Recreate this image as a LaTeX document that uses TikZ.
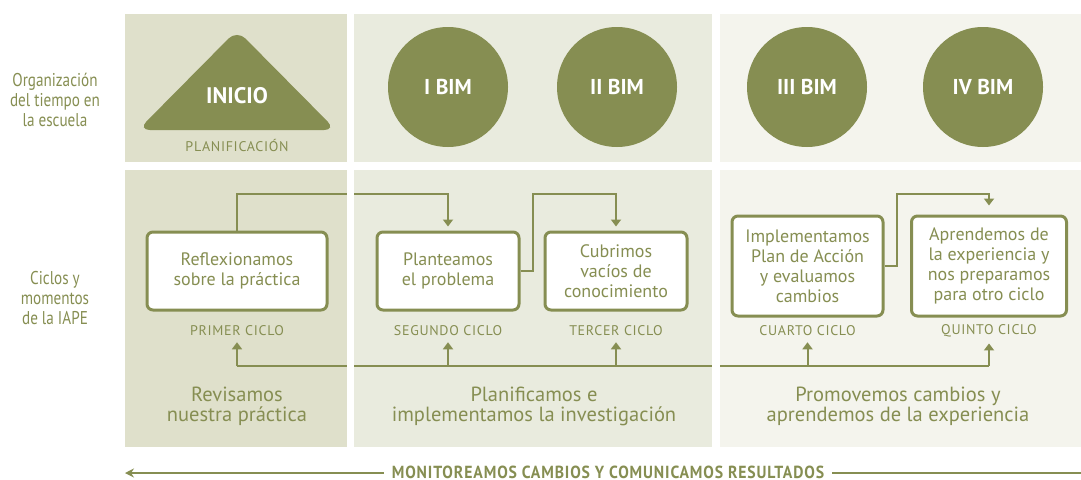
\documentclass[tikz,border=0pt]{standalone}
\usepackage{fontspec}
\setmainfont{PT Sans}
\newfontfamily\condfont[FakeStretch=0.82]{PT Sans}
\newfontfamily\capsfont[LetterSpace=5]{PT Sans}
\newfontfamily\monfont[FakeStretch=0.9,LetterSpace=5]{PT Sans}
\usetikzlibrary{arrows.meta,calc}
\definecolor{oliveG}{RGB}{134,142,82}
\definecolor{panelA}{RGB}{223,224,203}
\definecolor{panelB}{RGB}{233,235,222}
\definecolor{panelC}{RGB}{244,244,237}
\tikzset{
  bim/.style={circle,fill=oliveG,minimum size=120pt,inner sep=0pt,text=white,font=\bfseries\fontsize{21.5}{24}\selectfont},
  cbox/.style={draw=oliveG,line width=3pt,rounded corners=6pt,fill=white,text=oliveG,align=center,inner sep=0pt,font=\fontsize{18}{20}\selectfont},
  ciclo/.style={text=oliveG,font=\capsfont\fontsize{14}{16}\selectfont,inner sep=2pt},
  sidelab/.style={text=oliveG,align=center,font=\condfont\fontsize{18.5}{20}\selectfont},
  paneltxt/.style={text=oliveG,align=center,font=\fontsize{20.5}{20}\selectfont},
  conn/.style={draw=oliveG,line width=2pt},
  arr/.style={conn,-{Triangle[width=10pt,length=7pt]},shorten >=4pt}
}
\begin{document}
\begin{tikzpicture}[x=1pt,y=-1pt]
\useasboundingbox (0,0) rectangle (1081,479);
% panels
\fill[panelA] (125,14) rectangle (347,162);
\fill[panelB] (354,14) rectangle (712,162);
\fill[panelC] (720,14) rectangle (1081,162);
\fill[panelA] (125,170) rectangle (347,447);
\fill[panelB] (354,170) rectangle (712,447);
\fill[panelC] (720,170) rectangle (1081,447);
% side labels
\node[sidelab] (org) at (55,100) {Organización\\del tiempo en\\la escuela};
\node[sidelab] (cic) at (55,298) {Ciclos y\\momentos\\de la IAPE};
% top row
\fill[oliveG,rounded corners=12pt] (237,30) -- (336,130) -- (138,130) -- cycle;
\node[text=white,font=\bfseries\fontsize{22.5}{24}\selectfont] (ini) at (237,96) {INICIO};
\node[ciclo] (plan) at (237,145) {PLANIFICACIÓN};
\node[bim] (b1) at (448,87) {I BIM};
\node[bim] (b2) at (617,87) {II BIM};
\node[bim] (b3) at (807,87) {III BIM};
\node[bim] (b4) at (983,87) {IV BIM};
% boxes
\node[cbox,minimum width=180pt,minimum height=78pt] (r1) at (237,271) {Reflexionamos\\sobre la práctica};
\node[cbox,minimum width=142pt,minimum height=78pt] (p2) at (448,271) {Planteamos\\el problema};
\node[cbox,minimum width=142pt,minimum height=78pt] (c3) at (616,271) {Cubrimos\\vacíos de\\conocimiento};
\node[cbox,minimum width=151pt,minimum height=100pt] (i4) at (807.5,266) {Implementamos\\Plan de Acción\\y evaluamos\\cambios};
\node[cbox,minimum width=155pt,minimum height=100pt] (a5) at (989,266) {Aprendemos de\\la experiencia y\\nos preparamos\\para otro ciclo};
% cycle labels
\node[ciclo] (l1) at (237,331) {PRIMER CICLO};
\node[ciclo] (l2) at (448,331) {SEGUNDO CICLO};
\node[ciclo] (l3) at (616,331) {TERCER CICLO};
\node[ciclo] (l4) at (807.5,331) {CUARTO CICLO};
\node[ciclo] (l5) at (989,331) {QUINTO CICLO};
% panel texts
\node[paneltxt] (t1) at (237,406) {Revisamos\\nuestra práctica};
\node[paneltxt] (t2) at (534,406) {Planificamos e\\implementamos la investigación};
\node[paneltxt] (t3) at (898,406) {Promovemos cambios y\\aprendemos de la experiencia};
% top connectors
\coordinate (k1) at (448,194);
\coordinate (j2) at (533,194);
\coordinate (j4) at (897,194);
\draw[arr] (r1.north) |- (k1) -- (p2.north);
\draw[arr] (p2.east) -| (j2) -| (c3.north);
\draw[arr,shorten >=9pt] (i4.east) -| (j4) -| (a5.north);
% bottom connectors
\coordinate (u1) at (237,366);
\coordinate (u2) at (448,366);
\coordinate (u3) at (616,366);
\coordinate (u4) at (807.5,366);
\coordinate (u5) at (989,366);
\draw[conn] (u1) -- (u5);
\draw[arr] (u1) -- (l1.south);
\draw[arr] (u2) -- (l2.south);
\draw[arr] (u3) -- (l3.south);
\draw[arr] (u4) -- (l4.south);
\draw[arr] (u5) -- (l5.south);
% white gaps over connectors
\fill[white] (347,170) rectangle (354,447);
\fill[white] (712,170) rectangle (720,447);
% monitoring arrow
\node[text=oliveG,font=\monfont\bfseries\fontsize{17.5}{18}\selectfont,inner sep=0pt,anchor=base] (mon) at (608,478.5) {MONITOREAMOS CAMBIOS Y COMUNICAMOS RESULTADOS};
\coordinate (mL) at (125,473);
\coordinate (mR) at (1081,473);
\draw[conn,-{Stealth[width=9pt,length=9pt,inset=3pt]}] (mon.west |- mL) ++(-8,0) -- (mL);
\draw[conn] (mon.east |- mR) ++(8,0) -- (mR);
\end{tikzpicture}
\end{document}
